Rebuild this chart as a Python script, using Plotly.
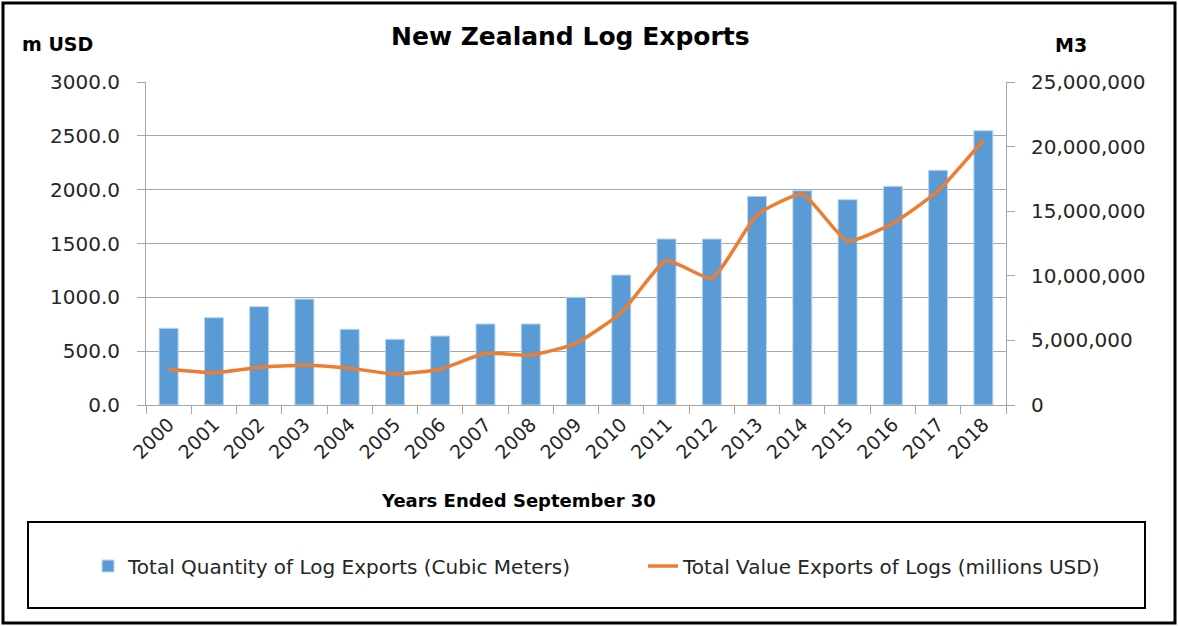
import plotly.graph_objects as go

years = [str(y) for y in range(2000, 2019)]
quantity_m3 = [5940000, 6760000, 7610000, 8200000, 5860000, 5090000, 5340000, 6270000, 6270000,
               8340000, 10060000, 12850000, 12850000, 16150000, 16590000, 15890000, 16930000,
               18170000, 21230000]
value_musd = [332, 300, 350, 369, 341, 288, 332, 480, 464,
              573, 857, 1340, 1177, 1765, 1957, 1523, 1688, 1990, 2461]

title_text = "New Zealand Log Exports"
left_title = "m USD"
right_title = "M3"
x_title = "Years Ended September 30"
bar_name = "Total Quantity of Log Exports (Cubic Meters)"
line_name = "Total Value Exports of Logs (millions USD)"

FONT = "DejaVu Sans"
GRID = "#A6A6A6"
TXT = "#262626"

L, R, T, B = 146, 172, 82, 221
W, H = 1178, 626
PW, PH = W - L - R, H - T - B


def px(xp):
    return (xp - L) / PW


def py(yp):
    return (H - B - yp) / PH


fig = go.Figure()
fig.add_trace(go.Bar(
    x=years, y=quantity_m3, name=bar_name, yaxis="y", legend="legend",
    marker=dict(color="#5B9BD5", line=dict(color="#BDD7EE", width=1)),
))
fig.add_trace(go.Scatter(
    x=years, y=value_musd, name=line_name, yaxis="y2", mode="lines", legend="legend2",
    line=dict(color="#ED7D31", width=3.5, shape="spline", smoothing=0.5),
))

legend_common = dict(
    orientation="h", yanchor="middle", xanchor="left",
    bgcolor="rgba(0,0,0,0)", borderwidth=0,
    font=dict(family=FONT, size=20, color=TXT),
)

fig.update_layout(
    width=W, height=H,
    margin=dict(l=L, r=R, t=T, b=B),
    paper_bgcolor="white", plot_bgcolor="white",
    font=dict(family=FONT, color=TXT, size=18),
    bargap=0.58,
    showlegend=True,
    legend=dict(x=px(88), y=py(566), **legend_common),
    legend2=dict(x=px(643), y=py(566), **legend_common),
    xaxis=dict(
        type="category", tickangle=-45, ticks="outside", tickson="boundaries",
        ticklen=8, tickcolor=GRID, showline=True, linecolor=GRID, linewidth=1,
        tickfont=dict(family=FONT, size=19, color=TXT), showgrid=False,
    ),
    yaxis=dict(
        side="right", range=[0, 25000000], dtick=5000000, tickformat=",",
        showgrid=False, zeroline=False, showline=True, linecolor=GRID, linewidth=1,
        ticks="outside", ticklen=8, tickcolor=GRID, ticklabelstandoff=12,
        tickfont=dict(family=FONT, size=20, color=TXT),
    ),
    yaxis2=dict(
        overlaying="y", side="left", range=[0, 3000], dtick=500, tickformat=".1f",
        showgrid=True, gridcolor=GRID, gridwidth=1, zeroline=False,
        showline=True, linecolor=GRID, linewidth=1,
        ticks="outside", ticklen=8, tickcolor=GRID, ticklabelstandoff=13,
        tickfont=dict(family=FONT, size=20, color=TXT),
    ),
    annotations=[
        dict(text=f"<b>{title_text}</b>", x=px(570), y=py(37), xref="paper", yref="paper",
             showarrow=False, font=dict(family=FONT, size=25, color="black"),
             xanchor="center", yanchor="middle"),
        dict(text=f"<b>{left_title}</b>", x=px(57), y=py(44), xref="paper", yref="paper",
             showarrow=False, font=dict(family=FONT, size=19, color="black"),
             xanchor="center", yanchor="middle"),
        dict(text=f"<b>{right_title}</b>", x=px(1071), y=py(45), xref="paper", yref="paper",
             showarrow=False, font=dict(family=FONT, size=19, color="black"),
             xanchor="center", yanchor="middle"),
        dict(text=f"<b>{x_title}</b>", x=px(518), y=py(500), xref="paper", yref="paper",
             showarrow=False, font=dict(family=FONT, size=18, color="black"),
             xanchor="center", yanchor="middle"),
    ],
    shapes=[
        dict(type="rect", xref="paper", yref="paper",
             x0=px(28), x1=px(1145), y0=py(608), y1=py(522),
             line=dict(color="black", width=2), fillcolor="rgba(0,0,0,0)"),
        dict(type="rect", xref="paper", yref="paper",
             x0=px(3), x1=px(1175), y0=py(623), y1=py(3),
             line=dict(color="black", width=3), fillcolor="rgba(0,0,0,0)"),
    ],
)

fig.write_html(
    "out.html",
    config={"displayModeBar": False},
    post_script="document.body.style.margin='0px';document.body.style.overflow='hidden';",
)
